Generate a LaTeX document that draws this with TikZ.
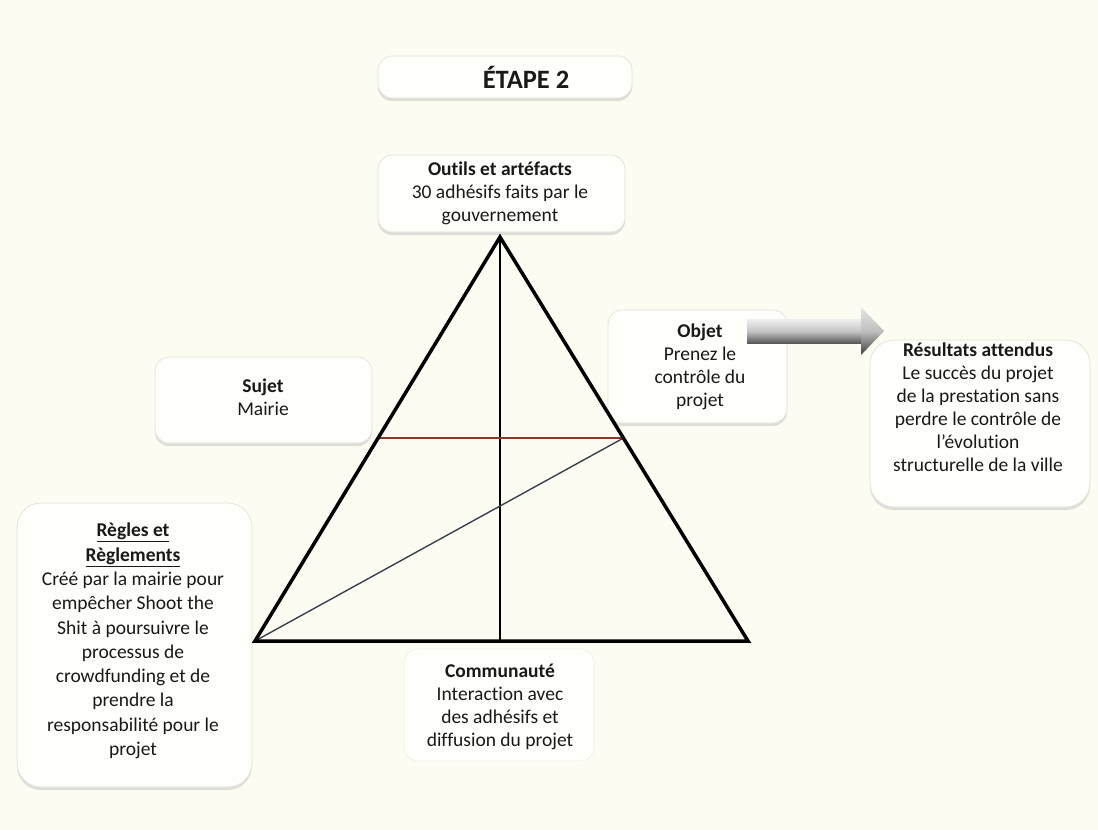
\documentclass[tikz,border=0pt]{standalone}
\usepackage{fontspec}
\setmainfont{Carlito}[Ligatures={TeX,NoCommon}]
\usetikzlibrary{shadows}
\definecolor{bg}{RGB}{253,252,243}
\definecolor{boxfill}{RGB}{254,254,250}
\definecolor{boxedge}{RGB}{228,228,220}
\definecolor{txt}{RGB}{25,25,25}
\definecolor{hline}{RGB}{140,55,40}
\definecolor{dline}{RGB}{55,65,80}
\begin{document}
\begin{tikzpicture}[x=1pt,y=-1pt,
  box/.style={draw=boxedge, line width=0.8pt, fill=boxfill, rounded corners=14pt,
    drop shadow={shadow xshift=0pt, shadow yshift=-3pt, opacity=0.35, fill=gray!70},
    inner sep=0pt},
  bigbox/.style={box, rounded corners=24pt},
  faintbox/.style={draw=boxedge!60, line width=0.6pt, fill=boxfill, rounded corners=14pt, inner sep=0pt},
  lbl/.style={text=txt, align=center, font=\fontsize{19.5}{23}\selectfont, inner sep=0pt},
  tri/.style={line width=3.5pt, line join=miter, black},
  vline/.style={line width=1.8pt, black},
  hln/.style={line width=1.6pt, hline},
  dln/.style={line width=1.4pt, dline}]
\useasboundingbox (0,0) rectangle (1098,830);
\fill[bg] (0,0) rectangle (1098,830);

% boxes
\node[box, minimum width=254pt, minimum height=42pt] (etape) at (505,77) {};
\node[text=txt, inner sep=0pt, font=\fontsize{26.5}{30}\selectfont\bfseries] (etapeT) at (526,77) {ÉTAPE 2};

\node[box, minimum width=247pt, minimum height=77pt] (outils) at (501.5,193.5) {};
\node[lbl] (outilsT) at (500,193) {\textbf{Outils et artéfacts}\\30 adhésifs faits par le\\gouvernement};

\node[box, minimum width=217pt, minimum height=86pt] (sujet) at (263.5,400) {};
\node[lbl] (sujetT) at (263,397) {\textbf{Sujet}\\Mairie};

\node[box, minimum width=179pt, minimum height=113pt] (objet) at (697.5,366.5) {};
\node[lbl] (objetT) at (700,367) {\textbf{Objet}\\Prenez le\\contrôle du\\projet};

\node[bigbox, minimum width=220pt, minimum height=167pt] (resultats) at (980,423.5) {};
\node[lbl] (resultatsT) at (978,407.5) {\textbf{Résultats attendus}\\Le succès du projet\\de la prestation sans\\perdre le contrôle de\\l'évolution\\structurelle de la ville};

\node[bigbox, minimum width=235pt, minimum height=284pt] (regles) at (134.5,645) {};
\node[lbl, font=\fontsize{19.5}{24.3}\selectfont] (reglesT) at (133,641) {\textbf{\underline{Règles et}}\\\textbf{\underline{Règlements}}\\Créé par la mairie pour\\empêcher Shoot the\\Shit à poursuivre le\\processus de\\crowdfunding et de\\prendre la\\responsabilité pour le\\projet};

\node[faintbox, minimum width=190pt, minimum height=112pt] (communaute) at (499,705) {};
\node[lbl] (communauteT) at (500,707) {\textbf{Communauté}\\Interaction avec\\des adhésifs et\\diffusion du projet};

% triangle
\coordinate (apex) at (500,237);
\coordinate (bl) at (255,641);
\coordinate (br) at (748,641);
\coordinate (vb) at (500,641);
\coordinate (hl) at (378,438);
\coordinate (hr) at (623.5,438);
\draw[vline] (apex) -- (vb);
\draw[hln] (hl) -- (hr);
\draw[dln] (bl) -- (hr);
\draw[tri] (apex) -- (bl) -- (br) -- cycle;

% block arrow from objet to resultats
\shade[top color=gray!12, bottom color=black!65, middle color=gray!45]
  (747,319) -- (862,319) -- (862,343) -- (747,343) -- cycle;
\shade[top color=gray!20, bottom color=black!75, middle color=gray!50]
  (861,319) -- (861,307) -- (884,331) -- (861,355) -- (861,343) -- cycle;
\end{tikzpicture}
\end{document}
